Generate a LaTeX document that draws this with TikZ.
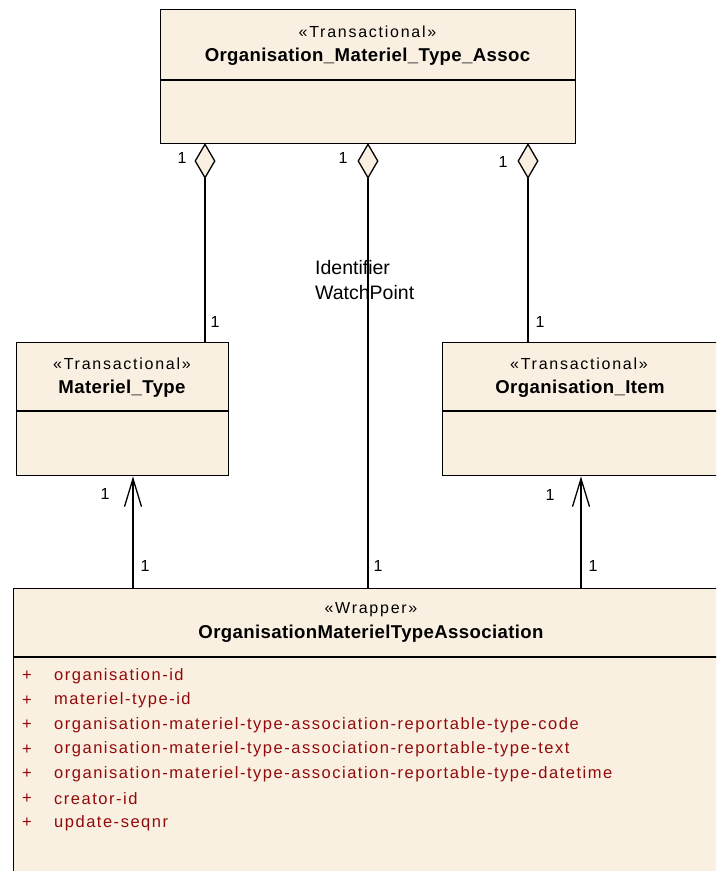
\documentclass[tikz,border=0pt]{standalone}
\usepackage{fontspec}
\setmainfont{Liberation Sans}
\newfontfamily\stfont[LetterSpace=10.9]{Liberation Sans}
\newfontfamily\atfont[LetterSpace=9.2]{Liberation Sans}
\newfontfamily\namefont[LetterSpace=2]{Liberation Sans}
\usetikzlibrary{arrows.meta,calc}
\definecolor{umlfill}{RGB}{250,240,226}
\definecolor{attrred}{RGB}{145,10,10}
\tikzset{
  umlbox/.style={draw=black, fill=umlfill, line width=1.4pt, rectangle, inner sep=0pt, anchor=north west},
  stereo/.style={inner sep=0pt, font=\stfont\fontsize{16pt}{19pt}\selectfont},
  cname/.style={inner sep=0pt, font=\namefont\bfseries\fontsize{18.6pt}{21pt}\selectfont},
  attr/.style={inner sep=0pt, anchor=west, text=attrred, font=\atfont\fontsize{16.5pt}{19pt}\selectfont},
  mult/.style={inner sep=0pt, font=\fontsize{16pt}{19pt}\selectfont},
  role/.style={inner sep=0pt, anchor=west, font=\fontsize{19.5pt}{22pt}\selectfont},
  conn/.style={line width=1.3pt, draw=black},
  aggr/.style={conn, {Diamond[length=36pt,width=21pt,fill=umlfill,line width=1.3pt]}-},
  nav/.style={conn, -{Straight Barb[length=28pt,width=17pt,line width=1.3pt]}},
}
\begin{document}
\begin{tikzpicture}[x=1pt,y=1pt]
\useasboundingbox (0,0) rectangle (716,-871);
\clip (0,0) rectangle (716,-871);

% top class
\node[umlbox, minimum width=415pt, minimum height=134pt] (top) at (160,-9) {};
\draw[line width=1.4pt] (160,-80) -- (575,-80);
\node[stereo] (topst) at (367.5,-32) {«Transactional»};
\node[cname] (topnm) at (367.5,-57) {Organisation\_Materiel\_Type\_Assoc};

% Materiel_Type
\node[umlbox, minimum width=212pt, minimum height=133pt] (mt) at (16,-342) {};
\draw[line width=1.4pt] (16,-411) -- (228,-411);
\node[stereo] (mtst) at (122,-364) {«Transactional»};
\node[cname] (mtnm) at (122,-389) {Materiel\_Type};

% Organisation_Item
\node[umlbox, minimum width=276pt, minimum height=133pt] (oi) at (442,-342) {};
\draw[line width=1.4pt] (442,-411) -- (718,-411);
\node[stereo] (oist) at (579,-364) {«Transactional»};
\node[cname] (oinm) at (580,-389) {Organisation\_Item};

% Wrapper
\node[umlbox, minimum width=716pt, minimum height=300pt] (wr) at (13,-588) {};
\draw[line width=1.4pt] (13,-657) -- (729,-657);
\node[stereo] (wrst) at (371,-610) {«Wrapper»};
\node[cname] (wrnm) at (371,-634) {OrganisationMaterielTypeAssociation};

\foreach \t [count=\i] in {organisation-id, materiel-type-id,
  organisation-materiel-type-association-reportable-type-code,
  organisation-materiel-type-association-reportable-type-text,
  organisation-materiel-type-association-reportable-type-datetime,
  creator-id, update-seqnr}{
  \node[attr, anchor=center] (p\i) at (27,{-676-24.5*(\i-1)}) {+};
  \node[attr] (a\i) at (54,{-676-24.5*(\i-1)}) {\t};
}

% connector end points
\coordinate (d1) at (205,-143);
\coordinate (d2) at (368,-143);
\coordinate (d3) at (528,-143);
\coordinate (b1) at (133,-588);
\coordinate (b2) at (581,-588);

\draw[aggr] (d1) -- (d1 |- mt.north);
\draw[aggr] (d2) -- (d2 |- wr.north);
\draw[aggr] (d3) -- (d3 |- oi.north);
\draw[nav] (b1) -- (b1 |- mt.south);
\draw[nav] (b2) -- (b2 |- oi.south);

% multiplicities
\node[mult] (m1) at (182,-158) {1};
\node[mult] (m2) at (343,-158) {1};
\node[mult] (m3) at (503,-162) {1};
\node[mult] (m4) at (215,-322) {1};
\node[mult] (m5) at (540,-322) {1};
\node[mult] (m6) at (105,-494) {1};
\node[mult] (m7) at (550,-495) {1};
\node[mult] (m8) at (145,-566) {1};
\node[mult] (m9) at (378,-566) {1};
\node[mult] (m10) at (593,-566) {1};

% role label
\node[role] (id1) at (315,-268) {Identifier};
\node[role] (id2) at (315,-293) {WatchPoint};
\end{tikzpicture}
\end{document}
